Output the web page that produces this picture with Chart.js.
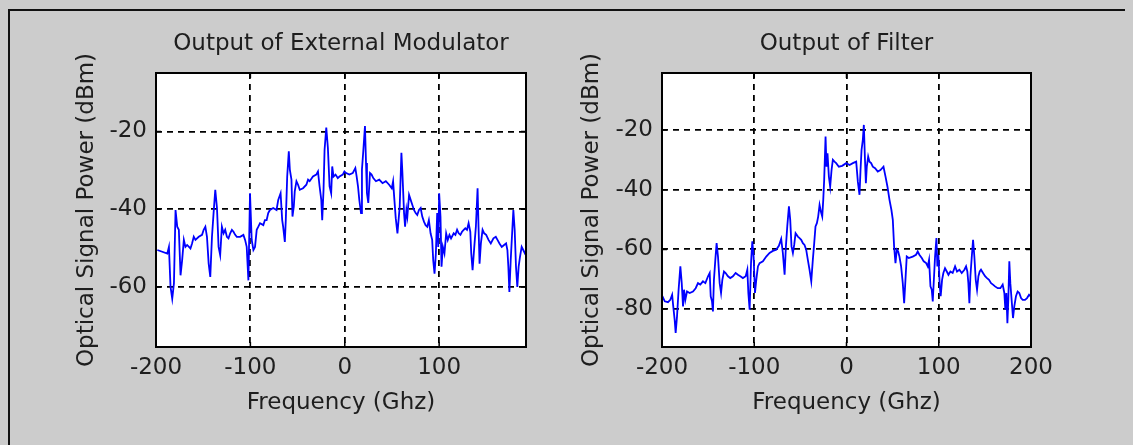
<!DOCTYPE html>
<html>
<head>
<meta charset="utf-8">
<script src="https://cdn.jsdelivr.net/npm/chart.js@4.4.1/dist/chart.umd.min.js"></script>
<style>
  html, body { margin: 0; padding: 0; background: #cccccc; }
  body { width: 1133px; height: 445px; position: relative; overflow: hidden; }
  .frame { position: absolute; left: 8px; top: 9px; width: 1117px; height: 436px; border-left: 2px solid #111; border-top: 2px solid #111; box-sizing: border-box; }
  canvas { position: absolute; top: 0; }
  #modChart { left: 0; }
  #filterChart { left: 566px; }
</style>
</head>
<body>
<div class="frame"></div>
<canvas id="modChart" width="566" height="445"></canvas>
<canvas id="filterChart" width="567" height="445"></canvas>
<script>
// Output of External Modulator (GHz, dBm)
const freqMod = [-198.6,-188,-186.3,-184.6,-182.8,-181,-179.3,-177.5,-175.8,-174,-172.3,-170.5,-168.8,-167,-163.5,-161.8,-160,-158.2,-154.7,-151.2,-149.5,-147.7,-146,-144.2,-142.5,-140.7,-139,-137.2,-135.4,-133.7,-132,-130.2,-128.4,-126.7,-124.9,-123.2,-121.4,-119.6,-117.9,-116.1,-114.4,-110.9,-107.4,-105.6,-103.9,-102.1,-100.4,-98.6,-96.8,-95.1,-93.3,-91.6,-89.8,-86.3,-84.6,-82.8,-81.1,-79.3,-75.8,-72.3,-70.5,-68,-66.3,-65.3,-63.5,-62.5,-61,-59.3,-58.2,-56.5,-55.4,-54,-53,-51.2,-49.5,-47.7,-44.2,-40.7,-38.9,-37.2,-33.7,-30.2,-28.4,-26.7,-24.9,-23.9,-22.5,-21.4,-19.6,-17.9,-16.1,-14.4,-13.3,-11.9,-9.8,-7.4,-5.6,-2.1,-0.4,1.4,4.9,8.4,11.2,12.6,14,15.4,17.2,18.2,19.6,21.4,22.5,23.5,24.9,26.7,28.4,30.2,33,36.5,40,43.5,47,49.8,51.2,52.3,54,55.8,58.2,60,61,62.8,63.9,65.3,66.3,68.1,69.8,71.6,73.3,75.1,76.8,78.6,80.4,82.1,83.9,85.6,87.4,89.1,90.9,92.6,93.7,95.1,96.5,97.9,99,100,101.4,102.5,103.9,105.6,107.4,109.1,110.9,112.6,115.4,117.2,119,120.7,122.5,124.2,126,127.7,129.5,131.2,133,134,135.4,137.2,138.9,140.7,141.7,142.8,144.2,146,147.7,149.8,152.3,154.7,157.5,160,161.8,163.9,166.3,168.8,170.9,172.3,173.3,174.4,175.8,177.5,178.6,180,181.4,182.8,184.2,185.6,187.4,189.1,190.9,192];
const powerMod = [-50.5,-51.4,-49.7,-60,-63,-59.1,-40.2,-44.5,-45.3,-57,-53.1,-47.9,-49.7,-49.2,-50.1,-48.8,-47.1,-47.9,-47.1,-46.6,-45.3,-44.5,-47.1,-54,-57.4,-47.1,-41,-35,-39.7,-49.7,-51.8,-44.5,-46.2,-45.3,-47.1,-47.5,-46.2,-45.3,-45.8,-46.6,-47.1,-47.1,-46.6,-47.9,-49.7,-58.3,-35.9,-47.9,-50.5,-49.7,-45.3,-44.5,-43.6,-44.1,-42.8,-42.8,-41,-40.2,-39.7,-40.2,-37.6,-35.9,-42.8,-44.5,-48.4,-42.8,-31.6,-25.1,-29.8,-32.4,-41.9,-39.3,-35.4,-32.8,-33.7,-35,-34.6,-33.7,-32.4,-32.8,-31.6,-31.1,-30.3,-34.1,-37.6,-42.8,-35,-24.7,-19,-24.2,-34.1,-35.9,-29,-31.6,-31.1,-32,-31.6,-31.1,-30.3,-30.7,-31.1,-30.7,-29.4,-31.6,-34.1,-37.6,-41,-29.8,-25.1,-18.6,-28.1,-35.9,-38.4,-30.7,-31.1,-32,-32.8,-32.4,-33.3,-32.8,-33.7,-34.6,-32.8,-36.7,-42.3,-46.2,-39.3,-25.5,-30.3,-41,-44.5,-40.2,-41.9,-36.3,-37.6,-38.9,-40.2,-41,-41.5,-40.2,-39.7,-41.9,-43.2,-44.1,-44.5,-42.8,-46.2,-47.9,-53.1,-56.6,-51.4,-41,-49.7,-35.9,-41.9,-54.8,-49.7,-51.4,-46.2,-47.9,-46.6,-47.5,-46.2,-46.6,-45.3,-46.2,-46.6,-45.8,-45.3,-44.9,-45.3,-43.6,-45.8,-51.4,-55.7,-49.7,-44.5,-34.6,-44.5,-54,-48.8,-45.3,-46.2,-46.6,-47.9,-48.8,-47.5,-47.1,-47.9,-48.8,-49.7,-49.2,-48.8,-50.5,-54.8,-61.3,-53.1,-45.3,-40.2,-45.3,-54.8,-60,-54.8,-52.3,-49.7,-50.5,-51.4,-51];
const xTicksMod = [-200, -100, 0, 100];
const yTicksMod = [-60, -40, -20];

// Output of Filter (GHz, dBm)
const freqFilter = [-199.6,-197,-193.5,-191,-189,-188,-186.3,-185.2,-183.7,-182,-180.1,-178.6,-177.2,-176.1,-174.7,-172.9,-170,-166.4,-163.5,-161,-158.5,-155.6,-153,-150.1,-148.3,-147.2,-145.8,-144.8,-143.7,-142.2,-140.8,-139.3,-137.5,-136,-134.6,-132.8,-131,-128.5,-126,-123.1,-120.2,-117.7,-115.1,-112.3,-109.3,-107.5,-106.4,-105,-103.5,-102.1,-100.7,-99.2,-97.8,-96,-94.2,-90.6,-87,-83.4,-79.8,-76.2,-73.3,-70.8,-69,-67.1,-65.7,-64.2,-62.4,-61,-59.6,-58.1,-56.7,-55.2,-52.7,-50.9,-49.1,-47.3,-45.5,-43.7,-41.9,-40.1,-38.2,-36.5,-35,-33.6,-32.1,-30.7,-29.2,-27.8,-26.3,-25.2,-24.2,-22.7,-21.7,-20.6,-19.1,-17.7,-16.2,-14.8,-13,-11.2,-8.3,-4.7,-0.3,3.3,6.9,10.5,12.3,14.1,15.2,16.3,17.7,18.8,19.9,21,22,23.5,24.9,26.7,28.5,31,33.9,36.8,40.1,42.3,44.4,46.6,48.7,50.2,51.6,53.1,54.5,56,57.4,59.2,61,62.5,63.9,65.3,67.5,71.8,75.4,77.2,79,81.6,83.7,86.3,88.1,89.5,91,92.4,93.5,94.9,96,97.5,98.5,99.6,101.1,102.1,103.6,105,106.8,108.7,110.5,112.6,115.1,117.7,119.8,122.4,124.9,127.8,129.6,131,132.1,133.2,134.3,135.7,137.2,138.6,140.1,141.5,143,144.4,145.8,148,150.2,152.3,154.5,156.7,158.8,161,163.9,166.8,169.3,171.1,172.2,173.3,174.4,175.4,176.5,177.6,179,180.5,181.9,183.7,185.5,187.3,189.2,191,193.5,195.7,197.9,199.3];
const powerFilter = [-75.7,-77.4,-77.7,-76.9,-75.2,-78.5,-83.5,-88,-82.4,-73.5,-65.7,-71.3,-79.1,-73.5,-76.9,-74.1,-74.6,-74.1,-73,-71.3,-71.8,-70.7,-71.3,-69,-67.9,-75.7,-77.4,-80.8,-70.2,-63.5,-57.9,-62.4,-71.3,-74.6,-70.2,-67.4,-67.9,-69,-69.6,-69,-67.9,-68.5,-69,-69.6,-69,-66.8,-74.6,-80.2,-64.6,-57.3,-62.4,-74.6,-70.2,-65.7,-64.6,-64,-62.4,-61.2,-60.5,-60.1,-58.8,-56.5,-61.2,-68.5,-59,-52.3,-45.6,-50.1,-59,-61.2,-58.5,-54.6,-55.7,-56.2,-56.8,-57.9,-58.5,-60.1,-63.5,-66.8,-70.7,-63.5,-57.9,-52.3,-51.2,-49,-45.1,-47.3,-49,-43.4,-36.7,-22.2,-32.3,-27.8,-35.6,-39,-33.4,-30,-30.6,-31.1,-32.3,-32,-31.1,-31.7,-31.1,-30.6,-37.3,-41.7,-33.4,-26.7,-23.3,-18.3,-28.9,-37.8,-32.3,-28.9,-30.6,-31.1,-32.3,-32.8,-33.9,-33.4,-32.3,-35.6,-39,-43.4,-46.8,-50.1,-59,-64.6,-60.1,-60.7,-62.4,-65.7,-71.3,-78,-70.2,-62.4,-62.9,-62.4,-61.8,-60.7,-61.8,-62.9,-64,-64.6,-65.7,-63.5,-72.4,-73.5,-77.4,-69,-62.4,-56.2,-65.7,-61.8,-72.4,-75.7,-70.2,-67.9,-66.3,-67.4,-68.5,-67.4,-67.9,-65.7,-67.4,-66.8,-67.9,-66.8,-65.7,-67.4,-71.3,-78,-69,-62.9,-56.8,-62.4,-70.2,-73.5,-69,-67.4,-66.8,-67.9,-69,-69.6,-70.2,-71.3,-71.8,-72.4,-73,-73,-71.8,-74.6,-80.2,-74.6,-84.7,-76.9,-64,-71.3,-76.9,-83,-79.1,-75.7,-74.1,-74.6,-76.3,-76.9,-76.9,-76.3,-75.2,-75.7];
const xTicksFilter = [-200, -100, 0, 100, 200];
const yTicksFilter = [-80, -60, -40, -20];

const FONT = "'DejaVu Sans', sans-serif";
const TEXT = "#1e1e1e";

// white plot area + black box with inward ticks, like the matlab axes
const axesBox = {
    id: "axesBox",
    beforeDraw(chart) {
        const { ctx, chartArea: a } = chart;
        ctx.save();
        ctx.fillStyle = "#ffffff";
        ctx.fillRect(a.left, a.top, a.right - a.left, a.bottom - a.top);
        ctx.restore();
    },
    afterDraw(chart) {
        const { ctx, chartArea: a, scales } = chart;
        ctx.save();
        ctx.strokeStyle = "#000";
        ctx.lineWidth = 1.5;
        ctx.beginPath();
        scales.x.ticks.forEach(t => {
            const px = scales.x.getPixelForValue(t.value);
            ctx.moveTo(px, a.bottom); ctx.lineTo(px, a.bottom - 5);
            ctx.moveTo(px, a.top); ctx.lineTo(px, a.top + 5);
        });
        scales.y.ticks.forEach(t => {
            const py = scales.y.getPixelForValue(t.value);
            ctx.moveTo(a.left, py); ctx.lineTo(a.left + 5, py);
            ctx.moveTo(a.right, py); ctx.lineTo(a.right - 5, py);
        });
        ctx.stroke();
        ctx.lineWidth = 2;
        ctx.strokeRect(a.left, a.top, a.right - a.left, a.bottom - a.top);
        ctx.restore();
    }
};

const drawSpectrum = (canvasId, freq, power, xTicks, yTicks, cfg) => {
    const ctx = document.getElementById(canvasId).getContext("2d");
    const font = { family: FONT, size: 23, weight: "normal" };
    new Chart(ctx, {
        type: "line",
        data: {
            datasets: [{
                data: freq.map((f, i) => ({ x: f, y: power[i] })),
                borderColor: "#0000ff",
                borderWidth: 1.8,
                pointRadius: 0,
                tension: 0,
                fill: false
            }]
        },
        options: {
            responsive: false,
            animation: false,
            layout: { padding: { left: 0, right: cfg.padRight, top: 0, bottom: 0 } },
            plugins: {
                legend: { display: false },
                tooltip: { enabled: false },
                title: {
                    display: true,
                    text: cfg.title,
                    fullSize: false,
                    color: TEXT,
                    font,
                    padding: { top: 30, bottom: 15.4 }
                }
            },
            scales: {
                x: {
                    type: "linear",
                    min: cfg.xMin,
                    max: cfg.xMax,
                    afterBuildTicks: s => { s.ticks = xTicks.map(v => ({ value: v })); },
                    afterFit: s => { s.height = 98; },
                    ticks: { color: TEXT, font, padding: 7, maxRotation: 0, autoSkip: false },
                    grid: { color: "#000", lineWidth: 1.8, drawTicks: false },
                    border: { display: false, dash: [6, 5] },
                    title: { display: true, text: "Frequency (Ghz)", color: TEXT, font, padding: { top: 0, bottom: 28 } }
                },
                y: {
                    type: "linear",
                    min: cfg.yMin,
                    max: cfg.yMax,
                    afterBuildTicks: s => { s.ticks = yTicks.map(v => ({ value: v })); },
                    afterFit: s => { s.width = cfg.yWidth; },
                    ticks: { color: TEXT, font, padding: 9, autoSkip: false },
                    grid: { color: "#000", lineWidth: 1.8, drawTicks: false },
                    border: { display: false, dash: [6, 5] },
                    title: { display: true, text: "Optical Signal Power (dBm)", color: TEXT, font, padding: { top: cfg.yTitlePad, bottom: 0 } }
                }
            }
        },
        plugins: [axesBox]
    });
};

drawSpectrum("modChart", freqMod, powerMod, xTicksMod, yTicksMod, {
    title: "Output of External Modulator",
    xMin: -200, xMax: 192, yMin: -75.45, yMax: -4.96,
    yWidth: 156, yTitlePad: 73, padRight: 40
});

drawSpectrum("filterChart", freqFilter, powerFilter, xTicksFilter, yTicksFilter, {
    title: "Output of Filter",
    xMin: -200, xMax: 200, yMin: -92.7, yMax: -0.9,
    yWidth: 96, yTitlePad: 12.2, padRight: 102
});
</script>
</body>
</html>
